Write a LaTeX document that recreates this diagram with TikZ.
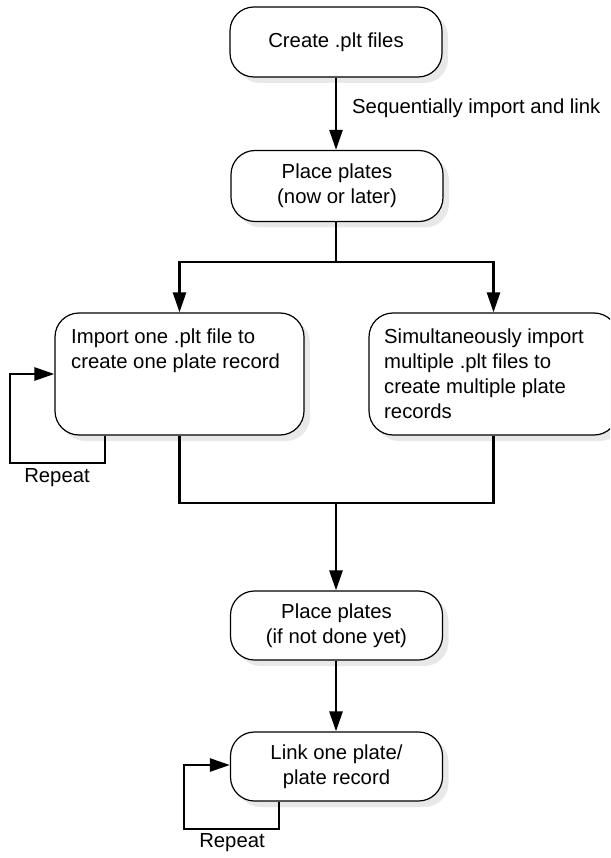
\documentclass[tikz,border=0pt]{standalone}
\usepackage{fontspec}
\setmainfont{Liberation Sans}
\usetikzlibrary{arrows.meta,shadows}
\begin{document}
\begin{tikzpicture}[x=1pt,y=-1pt,
  txt/.style={font=\fontsize{20.3pt}{25pt}\selectfont, inner sep=0pt},
  flowbox/.style={draw=black, line width=1.2pt, fill=white, rounded corners=24pt,
    general shadow={fill=black!9, shadow xshift=6pt, shadow yshift=-6pt},
    txt, align=center},
  conn/.style={draw=black, line width=2.6pt},
  arr/.style={conn, -{Triangle[length=20pt,width=13pt]}}]
  \clip (0,0) rectangle (610,858);

  % boxes
  \node[flowbox, minimum width=212pt, minimum height=70pt] (create) at (336,42) {Create .plt files};
  \node[flowbox, minimum width=212pt, minimum height=71pt] (place1) at (337,186) {Place plates\\(now or later)};
  \node[flowbox, minimum width=249pt, minimum height=122pt] (imp) at (179.5,374) {};
  \node[flowbox, minimum width=249pt, minimum height=122pt] (sim) at (493.5,374) {};
  \node[flowbox, minimum width=212pt, minimum height=69pt] (place2) at (336.5,625.5) {Place plates\\(if not done yet)};
  \node[flowbox, minimum width=212pt, minimum height=69pt] (link) at (336.5,766.5) {Link one plate/\\plate record};

  % text of the two import boxes
  \node[txt, anchor=north west, align=left] (imptext) at (71,329)
    {Import one .plt file to\\create one plate record};
  \node[txt, anchor=north west, align=left] (simtext) at (384,329)
    {Simultaneously import\\multiple .plt files to\\create multiple plate\\records};

  % labels
  \node[txt, anchor=west] (seq) at (352,108) {Sequentially import and link};
  \node[txt] (rep1) at (57,478) {Repeat};
  \node[txt] (rep2) at (232,843) {Repeat};

  % routing points
  \coordinate (split) at (336,262);
  \coordinate (merge) at (336,503);
  \coordinate (r1) at (105,463);
  \coordinate (r2) at (10,374);
  \coordinate (s1) at (279,829);
  \coordinate (s2) at (184,765);

  % connectors
  \draw[arr] (create.south -| split) -- (place1.north -| split);
  \draw[conn] (place1.south -| split) -- (split);
  \draw[arr] (split) -| (imp.north);
  \draw[arr] (split) -| (sim.north);
  \draw[conn] (imp.south) |- (merge) -| (sim.south);
  \draw[arr] (merge) -- (place2.north -| merge);
  \draw[arr] (place2.south -| merge) -- (link.north -| merge);

  % repeat loops
  \draw[arr] (imp.south -| r1) -- (r1) -| (r2) -- (r2 -| imp.west);
  \draw[arr] (link.south -| s1) -- (s1) -| (s2) -- (s2 -| link.west);
\end{tikzpicture}
\end{document}
